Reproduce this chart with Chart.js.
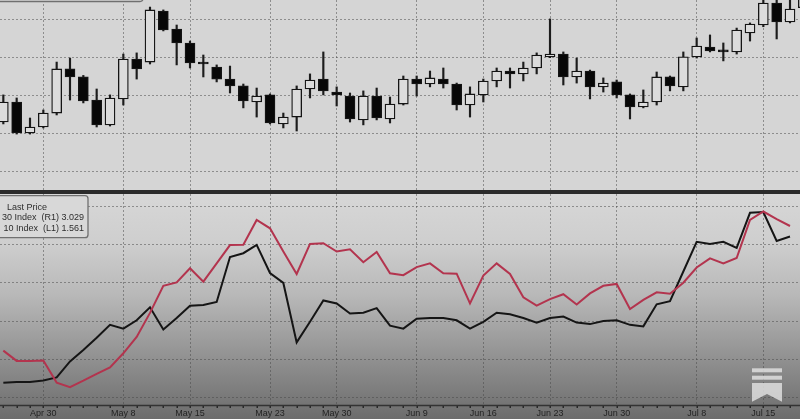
<!DOCTYPE html>
<html>
<head>
<meta charset="utf-8">
<title>USDJPY candles vs 10y / 30y yields</title>
<script src="https://cdn.jsdelivr.net/npm/chart.js@4.4.1/dist/chart.umd.min.js"></script>
<style>
  body { margin: 0; background: #d4d4d4; }
  #wrap { position: relative; width: 800px; height: 419px; overflow: hidden; }
  #topPanel { position: absolute; left: 0; top: 0; width: 800px; height: 190px; background: #d5d5d5; }
  #divider { position: absolute; left: 0; top: 190px; width: 800px; height: 4px; background: #2b2b2b; }
  #bottomPanel {
    position: absolute; left: 0; top: 194px; width: 800px; height: 225px;
    background: linear-gradient(to bottom, #d7d7d7 0%, #cecece 22%, #b8b8b8 45%, #959595 70%, #6c6c6c 100%);
  }
</style>
</head>
<body>
<div id="wrap">
  <div id="topPanel"><canvas id="priceChart" width="800" height="190"></canvas></div>
  <div id="divider"></div>
  <div id="bottomPanel"><canvas id="yieldChart" width="800" height="225"></canvas></div>
</div>

<script>
// x axis: index of the trading day that carries a label
const tickIdx = [3, 9, 14, 20, 25, 31, 36, 41, 46, 52, 57];
const tickText = ["Apr 30", "May 8", "May 15", "May 23", "May 30", "Jun 9", "Jun 16", "Jun 23", "Jun 30", "Jul 8", "Jul 15"];

// upper panel: daily candles
const opens = [142.61, 143.66, 142.04, 142.35, 143.08, 145.39, 144.97, 143.76, 142.46, 143.82,
  145.91, 145.75, 148.42, 147.48, 146.75, 145.75, 145.49, 144.86, 144.50, 143.66,
  144.03, 142.51, 142.87, 144.34, 144.86, 144.18, 143.97, 142.72, 143.97, 142.77,
  143.55, 144.86, 144.60, 144.86, 144.60, 143.50, 144.03, 144.76, 145.28, 145.13,
  145.44, 146.02, 146.17, 144.97, 145.28, 144.45, 144.71, 144.03, 143.40, 143.66,
  144.97, 144.45, 146.02, 146.54, 146.33, 146.28, 147.27, 147.69, 148.84, 147.85, 148.60];
const highs = [144.03, 143.87, 142.82, 143.24, 145.75, 145.96, 145.05, 144.34, 144.03, 146.17,
  146.23, 148.63, 148.48, 147.69, 146.85, 146.12, 145.60, 145.54, 144.60, 144.39,
  144.08, 143.08, 144.50, 145.13, 146.28, 144.45, 144.13, 144.24, 144.39, 143.92,
  145.02, 145.02, 145.28, 145.44, 144.65, 144.45, 144.86, 145.44, 145.44, 145.75,
  146.23, 148.01, 146.28, 145.96, 145.33, 144.92, 144.81, 144.08, 144.29, 145.23,
  145.02, 146.28, 147.01, 147.17, 146.75, 147.53, 147.80, 149.35, 149.20, 149.00, 149.50];
const lows = [142.51, 141.98, 141.98, 142.30, 142.98, 143.76, 143.61, 142.35, 142.40, 143.50,
  144.86, 145.65, 147.38, 145.60, 145.44, 144.97, 144.71, 144.13, 143.35, 142.87,
  142.51, 142.30, 142.14, 143.87, 144.03, 143.45, 142.61, 142.46, 142.72, 142.56,
  143.50, 143.97, 144.45, 144.39, 143.24, 142.87, 143.66, 144.45, 144.39, 144.76,
  145.13, 145.98, 144.55, 144.65, 143.82, 144.18, 143.87, 142.77, 143.35, 143.50,
  144.24, 144.24, 145.96, 146.28, 145.81, 146.17, 146.85, 147.60, 146.96, 147.80, 148.40];
const closes = [143.66, 142.04, 142.35, 143.08, 145.39, 144.97, 143.71, 142.46, 143.87, 145.91,
  145.39, 148.48, 147.43, 146.75, 145.70, 145.65, 144.86, 144.50, 143.71, 143.97,
  142.56, 142.87, 144.34, 144.81, 144.24, 144.03, 142.77, 143.97, 142.82, 143.55,
  144.86, 144.60, 144.92, 144.60, 143.50, 144.08, 144.76, 145.28, 145.13, 145.44,
  146.12, 146.17, 144.97, 145.28, 144.45, 144.65, 144.03, 143.40, 143.66, 144.97,
  144.50, 146.02, 146.59, 146.33, 146.28, 147.43, 147.74, 148.84, 147.85, 148.53, 149.30];
const priceGrid = [140, 142, 144, 146, 148];

// lower panel: last price of the two indices
const index30 = [2.702, 2.675, 2.675, 2.676, 2.618, 2.606, 2.623, 2.641, 2.658, 2.695,
  2.738, 2.801, 2.872, 2.881, 2.918, 2.883, 2.931, 2.979, 2.980, 3.045,
  3.023, 2.962, 2.903, 2.982, 2.984, 2.962, 2.968, 2.934, 2.961, 2.905,
  2.900, 2.921, 2.931, 2.905, 2.904, 2.826, 2.899, 2.931, 2.903, 2.842,
  2.820, 2.837, 2.850, 2.823, 2.852, 2.872, 2.877, 2.811, 2.835, 2.855,
  2.851, 2.880, 2.920, 2.944, 2.931, 2.945, 3.045, 3.067, 3.047, 3.029];
const index10 = [1.369, 1.370, 1.370, 1.372, 1.376, 1.397, 1.412, 1.428, 1.445, 1.440,
  1.451, 1.468, 1.439, 1.454, 1.470, 1.471, 1.475, 1.534, 1.539, 1.550,
  1.513, 1.500, 1.422, 1.449, 1.477, 1.473, 1.460, 1.461, 1.467, 1.444,
  1.440, 1.453, 1.454, 1.454, 1.451, 1.440, 1.449, 1.461, 1.459, 1.454,
  1.448, 1.454, 1.456, 1.448, 1.446, 1.450, 1.451, 1.445, 1.443, 1.472,
  1.476, 1.515, 1.554, 1.551, 1.554, 1.546, 1.592, 1.593, 1.555, 1.561];
const yieldGrid = [1.35, 1.40, 1.45, 1.50, 1.55, 1.60];

Chart.defaults.font.family = "'Liberation Sans', Arial, sans-serif";

const gridColor = "rgba(70,70,70,0.5)";
const dotted = { display: false, dash: [2, 2] };

function roundBox(ctx, x, y, w, h, r) {
  ctx.beginPath();
  ctx.moveTo(x + r, y);
  ctx.arcTo(x + w, y, x + w, y + h, r);
  ctx.arcTo(x + w, y + h, x, y + h, r);
  ctx.arcTo(x, y + h, x, y, r);
  ctx.arcTo(x, y, x + w, y, r);
  ctx.closePath();
}

// bottom edge of the (cropped) legend box of the upper panel
const topExtras = {
  id: "topExtras",
  afterDraw(chart) {
    const ctx = chart.ctx;
    ctx.save();
    roundBox(ctx, -10, -30, 153, 31.5, 3);
    ctx.fillStyle = "#d8d8d8";
    ctx.fill();
    ctx.strokeStyle = "#6f6f6f";
    ctx.lineWidth = 1.3;
    ctx.stroke();
    ctx.restore();
  },
};

// axis line with daily marks, legend box and the watermark
const bottomExtras = {
  id: "bottomExtras",
  afterDraw(chart) {
    const ctx = chart.ctx;
    const xs = chart.scales.x;
    const axisY = chart.chartArea.bottom;
    ctx.save();

    ctx.strokeStyle = "#333";
    ctx.lineWidth = 1.5;
    ctx.beginPath();
    ctx.moveTo(0, axisY);
    ctx.lineTo(800, axisY);
    ctx.stroke();
    ctx.fillStyle = "#2a2a2a";
    index10.forEach((_, i) => {
      const px = Math.round(xs.getPixelForValue(i));
      ctx.fillRect(px - 0.5, axisY + 0.5, 1.5, 2);
    });

    roundBox(ctx, -40, 1.7, 128, 42, 3);
    ctx.fillStyle = "#d8d8d8";
    ctx.fill();
    ctx.strokeStyle = "#707070";
    ctx.lineWidth = 1.3;
    ctx.stroke();
    ctx.fillStyle = "#2e2e2e";
    ctx.font = "9px 'Liberation Sans', Arial, sans-serif";
    ctx.textBaseline = "middle";
    ctx.textAlign = "center";
    ctx.fillText("Last Price", 27, 13.3);
    ctx.textAlign = "right";
    ctx.fillText("30 Index  (R1) " + index30[index30.length - 1].toFixed(3), 84, 23.8);
    ctx.fillText("10 Index  (L1) " + index10[index10.length - 1].toFixed(3), 84, 34.4);

    ctx.fillStyle = "rgba(222,222,222,0.85)";
    ctx.fillRect(752, 174.3, 30, 4);
    ctx.fillRect(752, 181.7, 30, 4);
    ctx.beginPath();
    ctx.moveTo(752, 189);
    ctx.lineTo(782, 189);
    ctx.lineTo(782, 207.7);
    ctx.lineTo(767, 200);
    ctx.lineTo(752, 207.7);
    ctx.closePath();
    ctx.fill();
    ctx.restore();
  },
};

const days = opens.map((_, i) => i);
const weekTicks = (scale) => { scale.ticks = tickIdx.map((v) => ({ value: v })); };

new Chart(document.getElementById("priceChart"), {
  type: "bar",
  data: {
    datasets: [
      {
        label: "Body",
        data: days.map((i) => ({ x: i, y: [opens[i], closes[i]] })),
        backgroundColor: days.map((i) => (closes[i] >= opens[i] ? "#dcdcdc" : "#070707")),
        borderColor: "#141414",
        borderWidth: 1.3,
        borderSkipped: false,
        barThickness: 10,
        minBarLength: 2,
        grouped: false,
        order: 0,
      },
      {
        label: "Range",
        data: days.map((i) => ({ x: i, y: [lows[i], highs[i]] })),
        backgroundColor: "#1c1c1c",
        barThickness: 1.5,
        grouped: false,
        order: 1,
      },
    ],
  },
  options: {
    responsive: false,
    animation: false,
    layout: { padding: 0 },
    plugins: { legend: { display: false }, tooltip: { enabled: false } },
    scales: {
      x: {
        type: "linear",
        min: -0.25,
        max: 59.75,
        offset: false,
        afterBuildTicks: weekTicks,
        ticks: { display: false },
        grid: { color: gridColor, drawTicks: false, offset: false },
        border: dotted,
      },
      y: {
        min: 139.05,
        max: 149,
        afterBuildTicks: (scale) => { scale.ticks = priceGrid.map((v) => ({ value: v })); },
        ticks: { display: false },
        grid: { color: gridColor, drawTicks: false },
        border: dotted,
      },
    },
  },
  plugins: [topExtras],
});

new Chart(document.getElementById("yieldChart"), {
  type: "line",
  data: {
    datasets: [
      {
        label: "30 Index (R1)",
        data: index30.map((v, i) => ({ x: i, y: v })),
        yAxisID: "yR",
        borderColor: "#b3344e",
        borderWidth: 2,
        pointRadius: 0,
      },
      {
        label: "10 Index (L1)",
        data: index10.map((v, i) => ({ x: i, y: v })),
        yAxisID: "yL",
        borderColor: "#151515",
        borderWidth: 2,
        pointRadius: 0,
      },
    ],
  },
  options: {
    responsive: false,
    animation: false,
    layout: { padding: 0 },
    plugins: { legend: { display: false }, tooltip: { enabled: false } },
    scales: {
      x: {
        type: "linear",
        min: -0.25,
        max: 59.75,
        afterBuildTicks: weekTicks,
        afterFit: (scale) => { scale.height = 13.5; },
        ticks: {
          autoSkip: false,
          maxRotation: 0,
          padding: 3,
          color: "#232323",
          font: { size: 9 },
          callback: (v) => tickText[tickIdx.indexOf(v)],
        },
        grid: { color: gridColor, drawTicks: false },
        border: dotted,
      },
      yL: {
        position: "left",
        min: 1.3392,
        max: 1.6167,
        afterBuildTicks: (scale) => { scale.ticks = yieldGrid.map((v) => ({ value: v })); },
        ticks: { display: false },
        grid: { color: gridColor, drawTicks: false },
        border: dotted,
      },
      yR: {
        position: "right",
        display: false,
        min: 2.5579,
        max: 3.113,
      },
    },
  },
  plugins: [bottomExtras],
});
</script>
</body>
</html>
